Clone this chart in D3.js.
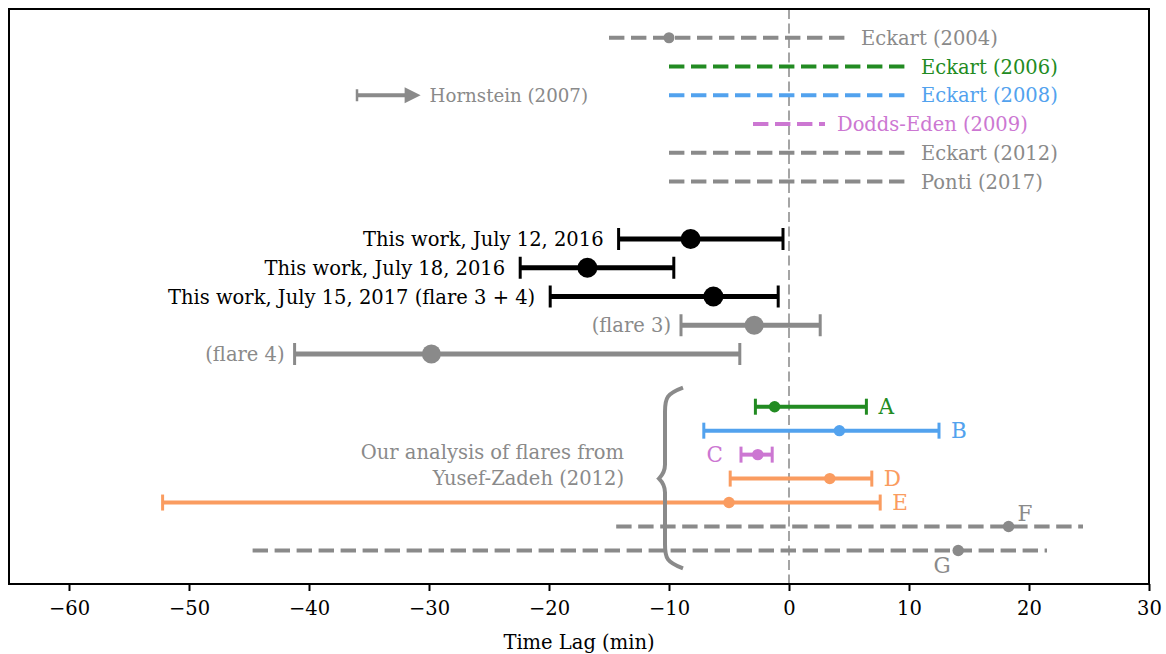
<!DOCTYPE html>
<html>
<head>
<meta charset="utf-8">
<script src="https://cdn.jsdelivr.net/npm/d3@7"></script>
<style>
  html, body { margin: 0; padding: 0; background: #fff; }
  svg { display: block; }
  text { font-family: "DejaVu Serif", serif; }
</style>
</head>
<body>
<svg id="chart" width="1166" height="654"></svg>
<script>
// ---------------- DATA ----------------
// Literature results (dashed ranges)
const litNames  = ["Eckart (2004)", "Eckart (2006)", "Eckart (2008)", "Dodds-Eden (2009)", "Eckart (2012)", "Ponti (2017)"];
const litLo     = [-15, -10, -10, -3, -10, -10];
const litHi     = [5, 10, 10, 3, 10, 10];
const litCenter = [-10, null, null, null, null, null];
const litRow    = [22.4, 21.2, 20.0, 18.8, 17.6, 16.4];

// Hornstein (2007) lower limit with arrow
const hornName  = "Hornstein (2007)";
const hornFrom  = -36;
const hornTo    = -30.7;
const hornRow   = 20.0;

// This work
const workNames = ["This work, July 12, 2016", "This work, July 18, 2016", "This work, July 15, 2017 (flare 3 + 4)", "(flare 3)", "(flare 4)"];
const workLo    = [-14.2, -22.4, -19.9, -9.0, -41.2];
const workVal   = [-8.2, -16.8, -6.3, -2.9, -29.8];
const workHi    = [-0.5, -9.6, -0.9, 2.6, -4.1];
const workRow   = [14.0, 12.8, 11.6, 10.4, 9.2];

// Our analysis of Yusef-Zadeh (2012) flares
const yzNames   = ["A", "B", "C", "D", "E", "F", "G"];
const yzLo      = [-2.8, -7.1, -4.0, -4.9, -52.2, -14.4, -44.7];
const yzVal     = [-1.2, 4.2, -2.6, 3.4, -5.0, 18.3, 14.1];
const yzHi      = [6.45, 12.5, -1.4, 6.9, 7.6, 24.5, 21.5];
const yzRow     = [7, 6, 5, 4, 3, 2, 1];
const yzBraceText = ["Our analysis of flares from", "Yusef-Zadeh (2012)"];

const xTicks    = [-60, -50, -40, -30, -20, -10, 0, 10, 20, 30];
const xLabel    = "Time Lag (min)";

// ---------------- STYLE ----------------
const GRAY = "#8a8a8a", GREEN = "#228b22", BLUE = "#52a2ee", PINK = "#cc77d2", ORANGE = "#fa9c60";
const litColors = [GRAY, GREEN, BLUE, PINK, GRAY, GRAY];
const workColors = ["#000", "#000", "#000", GRAY, GRAY];
const yzColors = [GREEN, BLUE, PINK, ORANGE, ORANGE, GRAY, GRAY];
const yzDashed = [false, false, false, false, false, true, true];
const FS = 19.5;

// ---------------- LAYOUT ----------------
const svg = d3.select("#chart");
const pLeft = 9, pRight = 1149, pTop = 9, pBottom = 584;
const x = d3.scaleLinear().domain([-65, 30]).range([pLeft, pRight]);
const y = d3.scaleLinear().domain([-0.4, 23.6]).range([pBottom, pTop]);

const g = svg.append("g");

// zero line
g.append("line")
  .attr("x1", x(0)).attr("x2", x(0)).attr("y1", pTop).attr("y2", pBottom)
  .attr("stroke", "#888").attr("stroke-width", 1.5).attr("stroke-dasharray", "10,4.5");

// literature dashed ranges
litNames.forEach((n, i) => {
  g.append("line")
    .attr("x1", x(litLo[i])).attr("x2", x(litHi[i]))
    .attr("y1", y(litRow[i])).attr("y2", y(litRow[i]))
    .attr("stroke", litColors[i]).attr("stroke-width", 4)
    .attr("stroke-dasharray", "15.4,6.6");
  if (litCenter[i] !== null) {
    g.append("circle").attr("cx", x(litCenter[i])).attr("cy", y(litRow[i])).attr("r", 5.5).attr("fill", litColors[i]);
  }
  g.append("text")
    .attr("x", x(litHi[i]) + 12).attr("y", y(litRow[i])).attr("dy", "0.36em")
    .attr("fill", litColors[i]).attr("font-size", FS).text(n);
});

// Hornstein arrow
{
  const yy = y(hornRow);
  const x0 = x(hornFrom), x1 = x(hornTo);
  g.append("line").attr("x1", x0).attr("x2", x1 - 15).attr("y1", yy).attr("y2", yy)
    .attr("stroke", GRAY).attr("stroke-width", 4);
  g.append("line").attr("x1", x0).attr("x2", x0).attr("y1", yy - 6).attr("y2", yy + 6)
    .attr("stroke", GRAY).attr("stroke-width", 2.5);
  g.append("path").attr("d", `M${x1 - 16},${yy - 8} L${x1},${yy} L${x1 - 16},${yy + 8} Z`).attr("fill", GRAY);
  g.append("text").attr("x", x1 + 9).attr("y", yy).attr("dy", "0.36em")
    .attr("fill", GRAY).attr("font-size", 18.2).text(hornName);
}

// error bar helper
function errbar(lo, val, hi, row, color, lw, cap, r, dashed) {
  const yy = y(row);
  g.append("line").attr("x1", x(lo)).attr("x2", x(hi)).attr("y1", yy).attr("y2", yy)
    .attr("stroke", color).attr("stroke-width", lw)
    .attr("stroke-dasharray", dashed ? "15.4,6.6" : null);
  if (!dashed) {
    [lo, hi].forEach(v => {
      g.append("line").attr("x1", x(v)).attr("x2", x(v)).attr("y1", yy - cap).attr("y2", yy + cap)
        .attr("stroke", color).attr("stroke-width", 3);
    });
  }
  g.append("circle").attr("cx", x(val)).attr("cy", yy).attr("r", r).attr("fill", color);
}

// this work
workNames.forEach((n, i) => {
  errbar(workLo[i], workVal[i], workHi[i], workRow[i], workColors[i], 5, 11, i < 3 ? 10 : 9.5, false);
  g.append("text").attr("x", x(workLo[i]) - (i < 3 ? 15 : 10)).attr("y", y(workRow[i])).attr("dy", "0.36em")
    .attr("text-anchor", "end").attr("fill", workColors[i]).attr("font-size", FS).text(n);
});

// Yusef-Zadeh flares
yzNames.forEach((n, i) => {
  errbar(yzLo[i], yzVal[i], yzHi[i], yzRow[i], yzColors[i], 4, 8, 5.7, yzDashed[i]);
  const t = g.append("text").attr("fill", yzColors[i]).attr("font-size", 21.5).text(n);
  const yy = y(yzRow[i]);
  if (n === "C") {
    t.attr("x", x(yzLo[i]) - 18).attr("y", yy).attr("dy", "0.36em").attr("text-anchor", "end");
  } else if (n === "F") {
    t.attr("x", x(yzVal[i]) + 9).attr("y", yy - 6);
  } else if (n === "G") {
    t.attr("x", x(yzVal[i]) - 16).attr("y", yy + 23).attr("text-anchor", "middle");
  } else {
    t.attr("x", x(yzHi[i]) + 12).attr("y", yy).attr("dy", "0.36em");
  }
});

// brace
{
  const yTop = y(yzRow[0]) - 19, yBot = y(yzRow[6]) + 18;
  const yMid = y(yzRow[3]);
  const xr = 683, xv = 665, xm = 659;
  const d = `M${xr},${yTop} C${xv+2},${yTop+6} ${xv},${yTop+10} ${xv},${yTop+24}
             L${xv},${yMid-14} C${xv},${yMid-6} ${xm+2},${yMid-2} ${xm},${yMid}
             C${xm+2},${yMid+2} ${xv},${yMid+6} ${xv},${yMid+14}
             L${xv},${yBot-24} C${xv},${yBot-10} ${xv+2},${yBot-6} ${xr},${yBot}`;
  g.append("path").attr("d", d).attr("fill", "none").attr("stroke", GRAY).attr("stroke-width", 4);
  yzBraceText.forEach((t, k) => {
    g.append("text").attr("x", 624).attr("y", yMid - 27 + k * 26).attr("dy", "0.36em")
      .attr("text-anchor", "end").attr("fill", GRAY).attr("font-size", FS).text(t);
  });
}

// frame
svg.append("rect").attr("x", pLeft).attr("y", pTop).attr("width", pRight - pLeft).attr("height", pBottom - pTop)
  .attr("fill", "none").attr("stroke", "#000").attr("stroke-width", 2);

// x axis
const ax = svg.append("g").attr("transform", `translate(0,${pBottom})`)
  .call(d3.axisBottom(x).tickValues(xTicks).tickSize(7).tickPadding(10).tickFormat(d => d < 0 ? "\u2212" + Math.abs(d) : String(d)));
ax.select(".domain").remove();
ax.selectAll(".tick line").attr("stroke", "#000").attr("stroke-width", 2);
ax.selectAll(".tick text").attr("font-family", "DejaVu Serif").attr("font-size", FS).attr("fill", "#000");

svg.append("text").attr("x", (pLeft + pRight) / 2).attr("y", 649).attr("text-anchor", "middle")
  .attr("font-size", FS).attr("fill", "#000").text(xLabel);
</script>
</body>
</html>
